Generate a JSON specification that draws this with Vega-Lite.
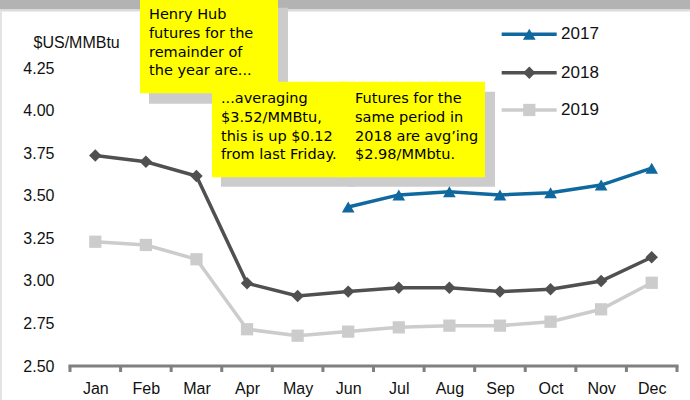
{
  "$schema": "https://vega.github.io/schema/vega-lite/v6.json",
  "width": 607,
  "height": 366,
  "autosize": {"type": "none"},
  "padding": {"left": 70, "top": 0, "right": 13, "bottom": 34},
  "background": "white",
  "config": {"view": {"stroke": null}, "font": "Liberation Sans"},
  "datasets": {
    "prices": [
      {"month": 6, "year": "2017", "value": 3.434},
      {"month": 7, "year": "2017", "value": 3.505},
      {"month": 8, "year": "2017", "value": 3.524},
      {"month": 9, "year": "2017", "value": 3.505},
      {"month": 10, "year": "2017", "value": 3.518},
      {"month": 11, "year": "2017", "value": 3.563},
      {"month": 12, "year": "2017", "value": 3.662},
      {"month": 1, "year": "2018", "value": 3.736},
      {"month": 2, "year": "2018", "value": 3.700},
      {"month": 3, "year": "2018", "value": 3.616},
      {"month": 4, "year": "2018", "value": 2.986},
      {"month": 5, "year": "2018", "value": 2.911},
      {"month": 6, "year": "2018", "value": 2.937},
      {"month": 7, "year": "2018", "value": 2.960},
      {"month": 8, "year": "2018", "value": 2.960},
      {"month": 9, "year": "2018", "value": 2.937},
      {"month": 10, "year": "2018", "value": 2.951},
      {"month": 11, "year": "2018", "value": 2.999},
      {"month": 12, "year": "2018", "value": 3.139},
      {"month": 1, "year": "2019", "value": 3.230},
      {"month": 2, "year": "2019", "value": 3.211},
      {"month": 3, "year": "2019", "value": 3.127},
      {"month": 4, "year": "2019", "value": 2.716},
      {"month": 5, "year": "2019", "value": 2.678},
      {"month": 6, "year": "2019", "value": 2.702},
      {"month": 7, "year": "2019", "value": 2.727},
      {"month": 8, "year": "2019", "value": 2.737},
      {"month": 9, "year": "2019", "value": 2.737},
      {"month": 10, "year": "2019", "value": 2.760},
      {"month": 11, "year": "2019", "value": 2.833},
      {"month": 12, "year": "2019", "value": 2.989}
    ],
    "boxes": [
      {"kind": "band", "x1": -0.983, "x2": 12.856, "y1": 4.65, "y2": 4.594},
      {"kind": "stripe", "x1": -0.983, "x2": 12.856, "y1": 4.594, "y2": 4.582},
      {"kind": "edge", "x1": -0.884, "x2": -0.844, "y1": 4.582, "y2": 2.30},
      {"kind": "shadow", "x1": 2.062, "x2": 4.810, "y1": 4.605, "y2": 4.041},
      {"kind": "box", "x1": 1.884, "x2": 4.612, "y1": 4.65, "y2": 4.102},
      {"kind": "shadow", "x1": 3.485, "x2": 6.134, "y1": 4.111, "y2": 3.553},
      {"kind": "box", "x1": 3.307, "x2": 5.956, "y1": 4.170, "y2": 3.609},
      {"kind": "shadow", "x1": 6.016, "x2": 8.902, "y1": 4.111, "y2": 3.553},
      {"kind": "box", "x1": 5.838, "x2": 8.704, "y1": 4.170, "y2": 3.609},
      {"kind": "axis", "x1": 0.47, "x2": 12.53, "y1": 2.5088, "y2": 2.4912},
      {"kind": "axis", "x1": 0.47, "x2": 0.53, "y1": 2.5, "y2": 2.4648},
      {"kind": "axis", "x1": 1.47, "x2": 1.53, "y1": 2.5, "y2": 2.4648},
      {"kind": "axis", "x1": 2.47, "x2": 2.53, "y1": 2.5, "y2": 2.4648},
      {"kind": "axis", "x1": 3.47, "x2": 3.53, "y1": 2.5, "y2": 2.4648},
      {"kind": "axis", "x1": 4.47, "x2": 4.53, "y1": 2.5, "y2": 2.4648},
      {"kind": "axis", "x1": 5.47, "x2": 5.53, "y1": 2.5, "y2": 2.4648},
      {"kind": "axis", "x1": 6.47, "x2": 6.53, "y1": 2.5, "y2": 2.4648},
      {"kind": "axis", "x1": 7.47, "x2": 7.53, "y1": 2.5, "y2": 2.4648},
      {"kind": "axis", "x1": 8.47, "x2": 8.53, "y1": 2.5, "y2": 2.4648},
      {"kind": "axis", "x1": 9.47, "x2": 9.53, "y1": 2.5, "y2": 2.4648},
      {"kind": "axis", "x1": 10.47, "x2": 10.53, "y1": 2.5, "y2": 2.4648},
      {"kind": "axis", "x1": 11.47, "x2": 11.53, "y1": 2.5, "y2": 2.4648},
      {"kind": "axis", "x1": 12.47, "x2": 12.53, "y1": 2.5, "y2": 2.4648}
    ],
    "notes": [
      {"x": 2.062, "y": 4.562, "lines": ["Henry Hub", "futures for the", "remainder of", "the year are..."]},
      {"x": 3.485, "y": 4.068, "lines": ["...averaging", "$3.52/MMBtu,", "this is up $0.12", "from last Friday."]},
      {"x": 6.134, "y": 4.068, "lines": ["Futures for the", "same period in", "2018 are avg’ing", "$2.98/MMbtu."]}
    ],
    "legend": [
      {"year": "2017", "lx1": 9.034, "lx2": 10.121, "mx": 9.580, "tx": 10.207, "ly": 4.449},
      {"year": "2018", "lx1": 9.034, "lx2": 10.121, "mx": 9.580, "tx": 10.207, "ly": 4.223},
      {"year": "2019", "lx1": 9.034, "lx2": 10.121, "mx": 9.580, "tx": 10.207, "ly": 4.004}
    ]
  },
  "layer": [
    {
      "data": {"name": "boxes"},
      "mark": {"type": "rect"},
      "encoding": {
        "x": {"field": "x1", "type": "quantitative", "scale": {"domain": [0.5, 12.5], "nice": false, "zero": false},
          "axis": {
            "title": null,
            "values": [1, 2, 3, 4, 5, 6, 7, 8, 9, 10, 11, 12],
            "labelExpr": "['Jan','Feb','Mar','Apr','May','Jun','Jul','Aug','Sep','Oct','Nov','Dec'][datum.value - 1]",
            "ticks": false,
            "domain": false,
            "grid": false,
            "labelPadding": 14,
            "labelFontSize": 16,
            "labelColor": "#111111",
            "labelOverlap": false,
            "labelFlush": false
          }},
        "x2": {"field": "x2"},
        "y": {"field": "y1", "type": "quantitative", "scale": {"domain": [2.5, 4.65], "nice": false, "zero": false},
          "axis": {
            "title": "$US/MMBtu",
            "titleAngle": 0,
            "titleAlign": "left",
            "titleBaseline": "middle",
            "titleX": -37,
            "titleY": 42,
            "titleFontSize": 16,
            "titleFontWeight": "normal",
            "titleColor": "#111111",
            "values": [2.5, 2.75, 3, 3.25, 3.5, 3.75, 4, 4.25],
            "format": ".2f",
            "grid": false,
            "domain": false,
            "ticks": false,
            "labelPadding": 16,
            "labelFontSize": 16,
            "labelColor": "#111111",
            "labelFlush": false,
            "labelOverlap": false
          }},
        "y2": {"field": "y2"},
        "fill": {"field": "kind", "type": "nominal", "legend": null,
          "scale": {"domain": ["band", "stripe", "edge", "shadow", "box", "axis"], "range": ["#B3B3B3", "#DCDCDC", "#E3E3E3", "#CCCCCC", "#FFFF00", "#808080"]}}
      }
    },
    {
      "data": {"name": "prices"},
      "mark": {"type": "line", "strokeWidth": 3.5},
      "encoding": {
        "x": {"field": "month", "type": "quantitative", "title": null},
        "y": {"field": "value", "type": "quantitative", "title": "$US/MMBtu"},
        "color": {"field": "year", "type": "nominal", "legend": null,
          "scale": {"domain": ["2017", "2018", "2019"], "range": ["#10699E", "#505050", "#CCCCCC"]}}
      }
    },
    {
      "data": {"name": "prices"},
      "mark": {"type": "point", "filled": true, "opacity": 1},
      "encoding": {
        "x": {"field": "month", "type": "quantitative", "title": null},
        "y": {"field": "value", "type": "quantitative", "title": "$US/MMBtu"},
        "color": {"field": "year", "type": "nominal", "legend": null},
        "shape": {"field": "year", "type": "nominal", "legend": null,
          "scale": {"domain": ["2017", "2018", "2019"], "range": ["triangle-up", "diamond", "square"]}},
        "size": {"field": "year", "type": "nominal", "legend": null,
          "scale": {"domain": ["2017", "2018", "2019"], "range": [160, 150, 100]}}
      }
    },
    {
      "data": {"name": "legend"},
      "mark": {"type": "rule", "strokeWidth": 3.5},
      "encoding": {
        "x": {"field": "lx1", "type": "quantitative", "title": null},
        "x2": {"field": "lx2"},
        "y": {"field": "ly", "type": "quantitative", "title": "$US/MMBtu"},
        "color": {"field": "year", "type": "nominal", "legend": null}
      }
    },
    {
      "data": {"name": "legend"},
      "mark": {"type": "point", "filled": true, "opacity": 1},
      "encoding": {
        "x": {"field": "mx", "type": "quantitative", "title": null},
        "y": {"field": "ly", "type": "quantitative", "title": "$US/MMBtu"},
        "color": {"field": "year", "type": "nominal", "legend": null},
        "shape": {"field": "year", "type": "nominal", "legend": null},
        "size": {"field": "year", "type": "nominal", "legend": null}
      }
    },
    {
      "data": {"name": "legend"},
      "mark": {"type": "text", "align": "left", "baseline": "middle", "fontSize": 17, "color": "#111111"},
      "encoding": {
        "x": {"field": "tx", "type": "quantitative", "title": null},
        "y": {"field": "ly", "type": "quantitative", "title": "$US/MMBtu"},
        "text": {"field": "year"}
      }
    },
    {
      "data": {"name": "notes"},
      "mark": {"type": "text", "align": "left", "baseline": "middle", "font": "DejaVu Sans", "fontSize": 14.5, "lineHeight": 18.8, "color": "#000000"},
      "encoding": {
        "x": {"field": "x", "type": "quantitative", "title": null},
        "y": {"field": "y", "type": "quantitative", "title": "$US/MMBtu"},
        "text": {"field": "lines"}
      }
    }
  ]
}
